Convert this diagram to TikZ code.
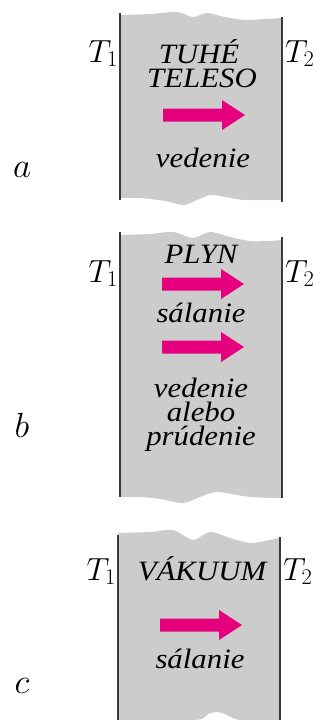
\RequirePackage{fix-cm}
\documentclass[tikz,border=0pt]{standalone}
\usepackage{fontspec}
\setmainfont[FakeStretch=1.1]{Liberation Serif}
\begin{document}
\begin{tikzpicture}[x=1pt,y=-1pt,
  slab/.style={fill=slabgray,draw=none},
  wall/.style={draw=walldark,line width=2pt},
  lbl/.style={font=\fontsize{28}{24}\selectfont\itshape,anchor=base,inner sep=0pt},
  temp/.style={font=\fontsize{32}{24}\selectfont,inner sep=0pt},
  part/.style={font=\fontsize{35}{24}\selectfont,inner sep=0pt,anchor=base},
  heatarrow/.pic={\fill[heatpink] (0,-6.5) -- (59,-6.5) -- (59,-15) -- (82,0) -- (59,15) -- (59,6.5) -- (0,6.5) -- cycle;}]
\definecolor{slabgray}{RGB}{204,204,204}
\definecolor{walldark}{RGB}{58,58,58}
\definecolor{heatpink}{RGB}{230,0,126}
\useasboundingbox (0,0) rectangle (320,720);

% --- a: solid body, conduction
\fill[slab] plot[smooth] coordinates {(120,15) (150,14) (177,12) (193,17) (207,13) (225,17) (245,20) (265,19) (282,18)}
  -- plot[smooth] coordinates {(282,200) (260,200) (243,200) (225,197) (210,195) (195,201) (183,205) (165,201) (140,198) (120,198)} -- cycle;
\draw[wall] (120,13) -- (120,200);
\draw[wall] (282,17) -- (282,202);
\node[temp,anchor=base east] (a1) at (118,62) {$T_1$};
\node[temp,anchor=base west] (a2) at (285,62) {$T_2$};
\node[lbl] (atext1) at (199,63) {TUHÉ};
\node[lbl] (atext2) at (202,87) {TELESO};
\pic at (163,115) {heatarrow};
\node[lbl] (atext3) at (203,167) {vedenie};
\node[part] (alab) at (22,177) {$a$};

% --- b: gas, radiation and conduction or convection
\fill[slab] plot[smooth] coordinates {(120,235) (150,234) (173,232) (193,238) (210,232) (230,237) (250,241) (268,241) (282,240)}
  -- plot[smooth] coordinates {(282,498) (250,497) (217,492) (200,497) (183,503) (160,499) (140,497) (120,497)} -- cycle;
\draw[wall] (120,232) -- (120,497);
\draw[wall] (282,237) -- (282,498);
\node[temp,anchor=base east] (b1) at (118,282) {$T_1$};
\node[temp,anchor=base west] (b2) at (285,282) {$T_2$};
\node[lbl] (btext1) at (201,263) {PLYN};
\pic at (162,284) {heatarrow};
\node[lbl] (btext2) at (201,322) {sálanie};
\pic at (162,347) {heatarrow};
\node[lbl] (btext3) at (201,397) {vedenie};
\node[lbl] (btext4) at (201,421) {alebo};
\node[lbl] (btext5) at (201,445) {prúdenie};
\node[part] (blab) at (22,437) {$b$};

% --- c: vacuum, radiation only
\fill[slab] plot[smooth] coordinates {(118,533) (150,532) (173,530) (193,540) (210,532) (230,538) (250,543) (265,541) (280,538)}
  -- plot[smooth] coordinates {(280,720) (240,720) (225,714) (217,712) (208,714) (195,720) (118,720)} -- cycle;
\draw[wall] (118,535) -- (118,720);
\draw[wall] (280,537) -- (280,720);
\node[temp,anchor=base east] (c1) at (116,580) {$T_1$};
\node[temp,anchor=base west] (c2) at (283,580) {$T_2$};
\node[lbl] (ctext1) at (202,580) {VÁKUUM};
\pic at (160,625) {heatarrow};
\node[lbl] (ctext2) at (200,668) {sálanie};
\node[part] (clab) at (22,693) {$c$};
\end{tikzpicture}
\end{document}
